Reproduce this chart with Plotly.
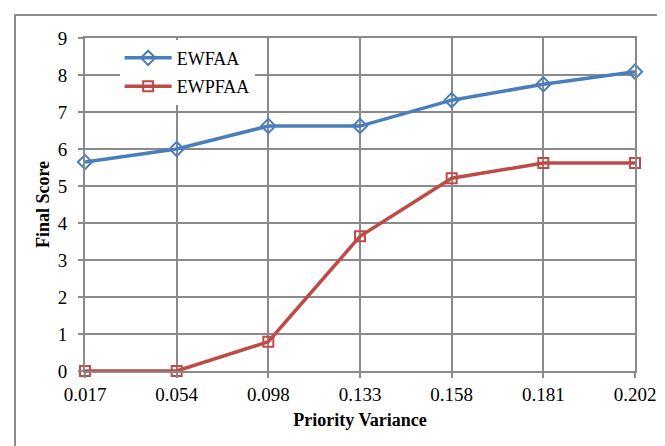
import plotly.graph_objects as go

categories = ["0.017", "0.054", "0.098", "0.133", "0.158", "0.181", "0.202"]
ewfaa = [5.65, 6.0, 6.62, 6.62, 7.32, 7.75, 8.09]
ewpfaa = [0.0, 0.0, 0.79, 3.64, 5.21, 5.62, 5.62]

BLUE = "#4a7ebb"
RED = "#be4b48"
GRID = "#8a8a8a"
FONT = "Liberation Serif"

fig = go.Figure()
fig.add_trace(go.Scatter(
    x=categories, y=ewfaa, name="EWFAA", mode="lines+markers",
    legendgroup="a",
    line=dict(color=BLUE, width=3.5),
    marker=dict(symbol="diamond-open", size=11, color=BLUE, line=dict(width=2)),
    cliponaxis=False,
))
fig.add_trace(go.Scatter(
    x=categories, y=ewpfaa, name="EWPFAA", mode="lines+markers",
    legendgroup="b",
    line=dict(color=RED, width=3.5),
    marker=dict(symbol="square-open", size=10, color=RED, line=dict(width=2)),
    cliponaxis=False,
))

fig.update_layout(
    width=665, height=446,
    margin=dict(l=77, r=38, t=30, b=83),
    paper_bgcolor="white", plot_bgcolor="white",
    font=dict(family=FONT, color="#000000", size=18),
    showlegend=True,
    legend=dict(
        x=0.063, y=0.995, xanchor="left", yanchor="top",
        bgcolor="white", borderwidth=0,
        font=dict(family=FONT, size=18),
        itemwidth=47, tracegroupgap=2,
    ),
    xaxis=dict(
        type="category", range=[0, 6],
        showgrid=True, gridcolor=GRID, gridwidth=2,
        showline=True, linecolor=GRID, linewidth=2, mirror=True,
        ticks="outside", ticklen=5, tickcolor=GRID, tickwidth=2,
        tickfont=dict(family=FONT, size=19),
        ticklabelstandoff=0,
        title=dict(text="Priority Variance", standoff=10,
                   font=dict(family=FONT, size=18, weight="bold")),
    ),
    yaxis=dict(
        range=[0, 9], dtick=1, tick0=0,
        showgrid=True, gridcolor=GRID, gridwidth=2,
        zeroline=False,
        showline=True, linecolor=GRID, linewidth=2, mirror=True,
        ticks="outside", ticklen=5, tickcolor=GRID, tickwidth=2,
        tickfont=dict(family=FONT, size=19),
        ticklabelstandoff=7,
        title=dict(text="Final Score", standoff=3,
                   font=dict(family=FONT, size=18, weight="bold")),
    ),
    shapes=[dict(
        type="rect", xref="paper", yref="paper",
        x0=(7 - 77) / 550, x1=(680 - 77) / 550,
        y0=(363 - 460) / 333, y1=(363 - 7) / 333,
        line=dict(color="#8c8c8c", width=2), fillcolor="rgba(0,0,0,0)",
        layer="below",
    )],
)

fig.write_html("out.html")
